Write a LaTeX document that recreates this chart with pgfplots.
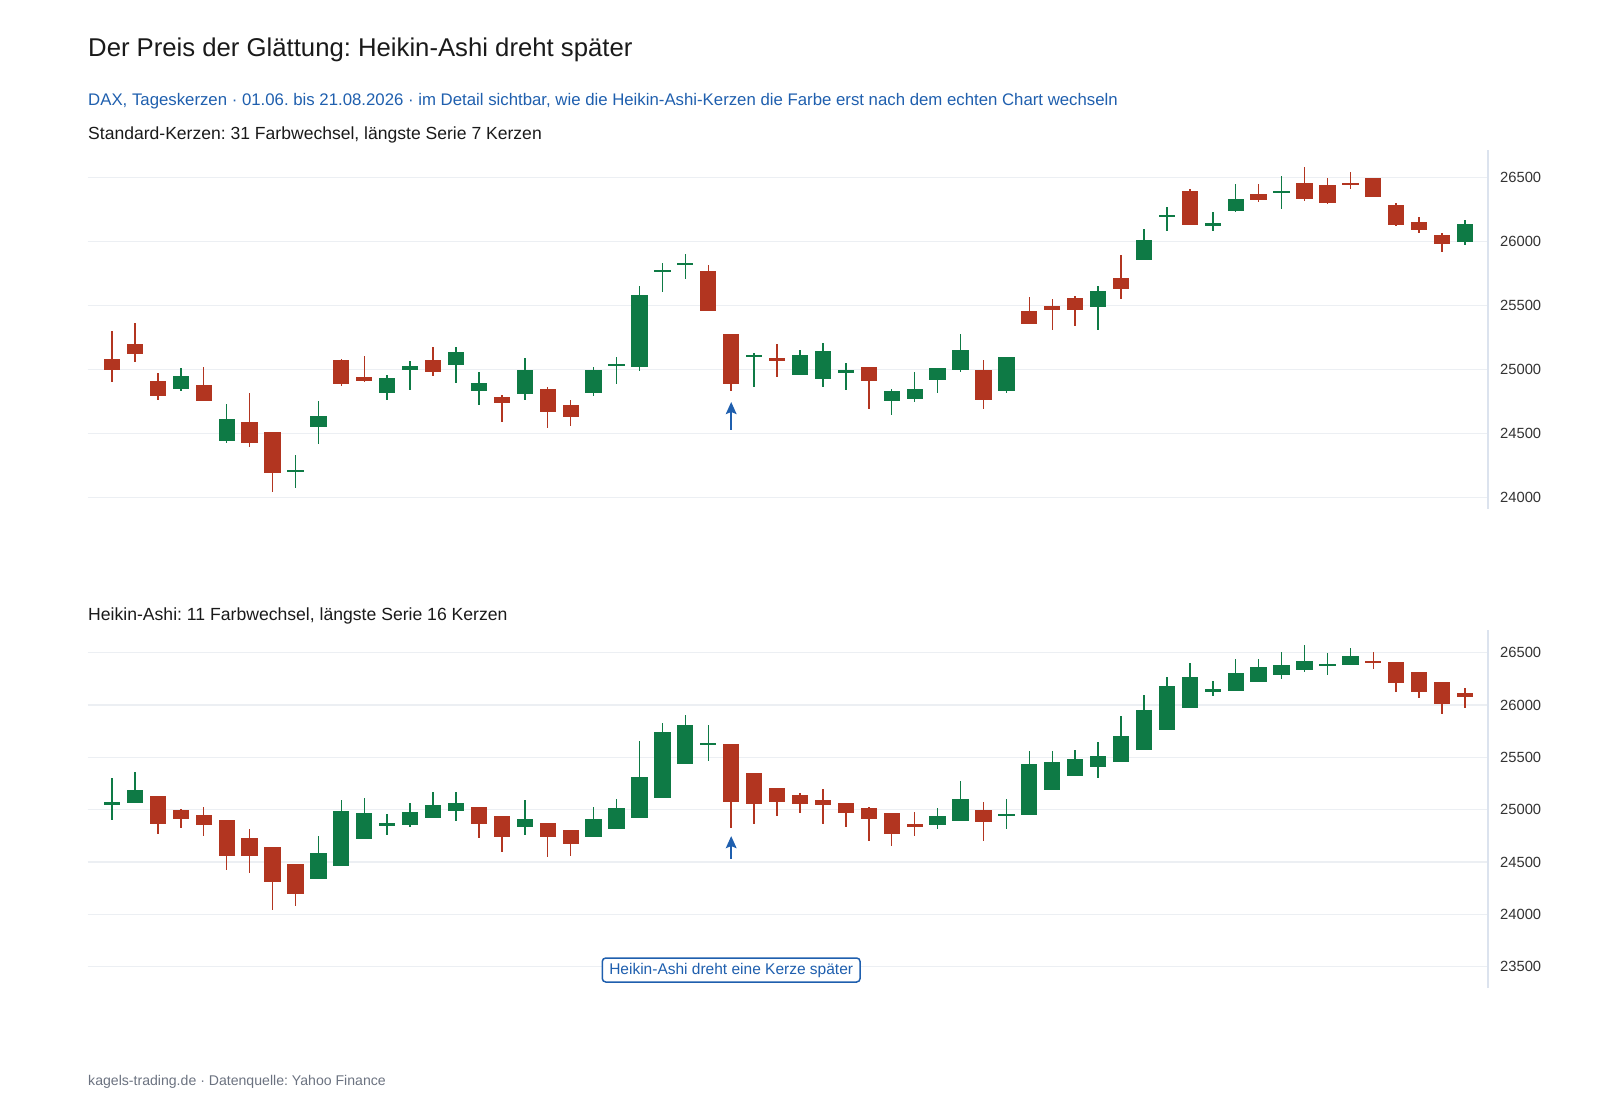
\documentclass[border=0pt]{standalone}
\usepackage{fontspec}
\setmainfont{Liberation Sans}
\usepackage{pgfplots}
\pgfplotsset{compat=1.18}
\usepackage{pgfplotstable}
\usetikzlibrary{arrows.meta}
\frenchspacing
\definecolor{cred}{HTML}{B23520}
\definecolor{cgreen}{HTML}{0E7A45}
\definecolor{cblue}{HTML}{1F5FAE}
\definecolor{cgrid}{HTML}{ECEFF3}
\definecolor{caxis}{HTML}{DCE3EE}
\definecolor{ctext}{HTML}{1A1A1A}
\definecolor{ctick}{HTML}{333333}
\definecolor{cfoot}{HTML}{6B7280}

% Standard candles: index, open, high, low, close
\pgfplotstableread{
x o h l c
0 25083 25302 24901 24997
1 25201 25365 25060 25117
2 24912 24969 24760 24789
3 24844 25008 24828 24948
4 24880 25021 24750 24750
5 24438 24729 24422 24612
6 24589 24813 24396 24422
7 24508 24508 24039 24190
8 24200 24331 24076 24214
9 24547 24753 24417 24636
10 25070 25083 24872 24888
11 24940 25104 24899 24906
12 24813 24956 24760 24932
13 24992 25063 24839 25024
14 25076 25175 24951 24982
15 25031 25175 24891 25138
16 24831 24982 24721 24893
17 24787 24800 24586 24737
18 24805 25089 24760 24995
19 24849 24865 24542 24667
20 24724 24760 24557 24625
21 24813 25021 24792 24995
22 25024 25094 24883 25040
23 25018 25654 24990 25581
24 25762 25828 25607 25778
25 25812 25901 25703 25828
26 25771 25813 25458 25458
27 25279 25279 24833 24888
28 25099 25125 24859 25115
29 25086 25198 24938 25065
30 24956 25151 24956 25112
31 24927 25208 24865 25146
32 24969 25052 24839 24997
33 25016 25021 24693 24911
34 24750 24849 24646 24833
35 24766 24977 24742 24849
36 24919 25008 24813 25008
37 24995 25276 24982 25154
38 24995 25073 24693 24758
39 24828 25099 24813 25099
40 25458 25563 25357 25357
41 25495 25552 25307 25464
42 25557 25573 25339 25464
43 25484 25654 25307 25609
44 25711 25891 25547 25630
45 25852 26094 25852 26010
46 26188 26271 26083 26206
47 26396 26409 26125 26125
48 26120 26232 26083 26146
49 26234 26448 26227 26328
50 26370 26448 26305 26323
51 26380 26510 26253 26396
52 26458 26578 26318 26331
53 26443 26492 26292 26302
54 26453 26544 26409 26437
55 26495 26495 26344 26344
56 26281 26297 26120 26125
57 26154 26188 26068 26089
58 26052 26065 25914 25982
59 25997 26167 25969 26138
}\stdtab

% Heikin-Ashi candles: index, open, high, low, close
\pgfplotstableread{
x o h l c
0 25049 25307 24906 25071
1 25062 25362 25062 25186
2 25132 25132 24765 24864
3 24998 25011 24829 24909
4 24953 25027 24752 24854
5 24906 24906 24427 24555
6 24730 24819 24398 24555
7 24644 24644 24044 24312
8 24485 24485 24080 24198
9 24338 24749 24338 24590
10 24459 25090 24459 24992
11 24724 25110 24724 24972
12 24848 24963 24762 24870
13 24854 25065 24835 24979
14 24918 25173 24918 25049
15 24985 25173 24896 25065
16 25027 25027 24727 24864
17 24941 24941 24599 24736
18 24835 25090 24762 24915
19 24877 24877 24548 24736
20 24803 24803 24561 24670
21 24736 25027 24736 24915
22 24816 25100 24816 25017
23 24921 25661 24921 25317
24 25116 25830 25116 25747
25 25435 25904 25435 25814
26 25620 25811 25467 25636
27 25626 25626 24829 25071
28 25355 25355 24867 25052
29 25205 25205 24944 25071
30 25145 25161 24969 25052
31 25094 25199 24867 25043
32 25065 25065 24838 24969
33 25017 25027 24701 24909
34 24972 24972 24650 24772
35 24867 24976 24752 24835
36 24854 25017 24816 24941
37 24893 25275 24893 25103
38 24998 25071 24701 24883
39 24944 25100 24816 24963
40 24947 25559 24947 25441
41 25189 25559 25189 25457
42 25323 25575 25323 25489
43 25409 25649 25307 25515
44 25460 25894 25460 25703
45 25572 26098 25572 25955
46 25763 26264 25763 26184
47 25974 26404 25974 26270
48 26120 26229 26082 26149
49 26136 26443 26136 26309
50 26216 26443 26216 26363
51 26286 26510 26248 26382
52 26331 26577 26312 26417
53 26379 26494 26286 26395
54 26379 26545 26379 26465
55 26423 26503 26341 26406
56 26414 26414 26121 26207
57 26315 26315 26063 26127
58 26219 26219 25913 26006
59 26111 26159 25967 26073
}\hatab

\pgfplotsset{
  candleaxis/.style={
    scale only axis, width=1400.3pt, xmin=-1.06, xmax=60,
    axis x line=none, axis y line*=right,
    y axis line style={draw=caxis, line width=1.4pt},
    ymajorgrids, major grid style={draw=cgrid, line width=1.4pt},
    ytick style={draw=none},
    yticklabel style={anchor=west, inner sep=0pt, xshift=12pt,
      font=\fontsize{14.75pt}{16pt}\selectfont, text=ctick},
    /pgf/number format/assume math mode=true,
    /pgf/number format/1000 sep={},
    scaled y ticks=false, clip=false,
  },
}

\newcommand\candleset[3]{% table, domain, colour
  \addplot[draw=none, forget plot,
    restrict expr to domain={\thisrow{c}-\thisrow{o}}{#2},
    error bars/y dir=both, error bars/y explicit, error bars/error mark=none,
    error bars/error bar style={draw=#3, line width=1.5pt, solid}]
    table[x=x, y expr={(\thisrow{h}+\thisrow{l})/2},
      y error expr={(\thisrow{h}-\thisrow{l})/2}] {#1};
  \addplot[draw=none, forget plot,
    restrict expr to domain={\thisrow{c}-\thisrow{o}}{#2},
    error bars/y dir=both, error bars/y explicit, error bars/error mark=none,
    error bars/error bar style={draw=#3, line width=16.3pt, solid}]
    table[x=x, y expr={(\thisrow{o}+\thisrow{c})/2},
      y error expr={abs(\thisrow{c}-\thisrow{o})/2}] {#1};
}

\begin{document}
\begin{tikzpicture}
\path[use as bounding box] (0,0) rectangle (1600pt,1117pt);

\node[anchor=base west, inner sep=0pt, text=ctext,
  font=\fontsize{25.7pt}{30pt}\selectfont] at (88pt,1060pt)
  {Der Preis der Glättung: Heikin-Ashi dreht später};
\node[anchor=base west, inner sep=0pt, text=cblue,
  font=\fontsize{16.78pt}{20pt}\selectfont] at (88pt,1011pt)
  {DAX, Tageskerzen · 01.06. bis 21.08.2026 · im Detail sichtbar, wie die Heikin-Ashi-Kerzen die Farbe erst nach dem echten Chart wechseln};
\node[anchor=base west, inner sep=0pt, text=ctext,
  font=\fontsize{17.55pt}{21pt}\selectfont] at (88pt,977pt)
  {Standard-Kerzen: 31 Farbwechsel, längste Serie 7 Kerzen};
\node[anchor=base west, inner sep=0pt, text=ctext,
  font=\fontsize{17.6pt}{21pt}\selectfont] at (88pt,496pt)
  {Heikin-Ashi: 11 Farbwechsel, längste Serie 16 Kerzen};
\node[anchor=base west, inner sep=0pt, text=cfoot,
  font=\fontsize{14.1pt}{17pt}\selectfont] at (88pt,32pt)
  {kagels-trading.de · Datenquelle: Yahoo Finance};

\begin{axis}[candleaxis, at={(87.7pt,608pt)}, anchor=south west,
  height=359pt, ymin=23909, ymax=26713,
  ytick={24000,24500,25000,25500,26000,26500}]
  \candleset{\stdtab}{0:100000}{cgreen}
  \candleset{\stdtab}{-100000:-0.01}{cred}
  \addplot[draw=cblue, line width=2.6pt,
    -{Stealth[length=12pt,width=10.5pt,inset=2pt]}]
    coordinates {(27,24526) (27,24745)};
\end{axis}

\begin{axis}[candleaxis, at={(87.7pt,129pt)}, anchor=south west,
  height=358pt, ymin=23296, ymax=26717,
  ytick={23500,24000,24500,25000,25500,26000,26500}]
  \candleset{\hatab}{0:100000}{cgreen}
  \candleset{\hatab}{-100000:-0.01}{cred}
  \addplot[draw=cblue, line width=2.6pt,
    -{Stealth[length=12pt,width=10.5pt,inset=2pt]}]
    coordinates {(27,24531) (27,24748)};
  \node[draw=cblue, line width=1.5pt, rounded corners=3.5pt, fill=white,
    text=cblue, font=\fontsize{15.5pt}{18pt}\selectfont,
    inner xsep=7pt, inner ysep=0pt, minimum height=24pt]
    at (axis cs:27,23468) {Heikin-Ashi dreht eine Kerze später};
\end{axis}
\end{tikzpicture}
\end{document}
